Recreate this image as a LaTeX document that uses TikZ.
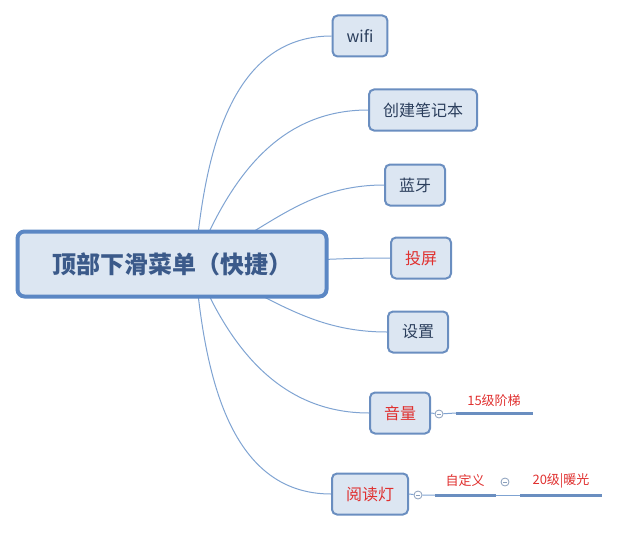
\documentclass[tikz,border=0pt]{standalone}
\usepackage{fontspec}
\setmainfont{Noto Sans CJK SC}
\usepackage{tikz}

\definecolor{boxfill}{HTML}{DCE6F2}
\definecolor{boxdraw}{HTML}{6A8EC0}
\definecolor{rootdraw}{HTML}{5B87C4}
\definecolor{branchblue}{HTML}{7FA3D2}
\definecolor{textdark}{HTML}{2B3E5C}
\definecolor{roottext}{HTML}{3B5A8A}
\definecolor{textred}{HTML}{E0302F}
\definecolor{foldgray}{HTML}{8A9FBC}

\begin{document}
\begin{tikzpicture}[x=1pt,y=-1pt]
\tikzstyle{topic}=[draw=boxdraw,fill=boxfill,line width=2,rounded corners=5,minimum height=41,inner xsep=14,font=\fontsize{16}{19}\selectfont,text=textdark]
\tikzstyle{roottopic}=[draw=rootdraw,fill=boxfill,line width=4,rounded corners=7,minimum width=309,minimum height=65,font=\fontsize{24}{28}\selectfont\bfseries,text=roottext]
\tikzstyle{branch}=[draw=branchblue,line width=1]
\tikzstyle{bar}=[draw=boxdraw,line width=3]
\tikzstyle{note}=[font=\fontsize{13}{15}\selectfont,text=textred,inner sep=1]
\tikzstyle{fold}=[circle,draw=foldgray,fill=white,line width=0.8,minimum size=8,inner sep=0,
  path picture={\draw[foldgray,line width=0.8] ([xshift=2]path picture bounding box.west) -- ([xshift=-2]path picture bounding box.east);}]
\useasboundingbox (0,0) rectangle (620,532);

\coordinate (hub) at (195,264);

% sub topics
\node[topic] (wifi) at (360,36) {wifi};
\node[topic] (note) at (423,110) {创建笔记本};
\node[topic] (bt) at (415,185) {蓝牙};
\node[topic,text=textred] (cast) at (421,258) {投屏};
\node[topic] (setup) at (418,332) {设置};
\node[topic,text=textred] (vol) at (400,413) {音量};
\node[topic,text=textred] (lamp) at (370,494) {阅读灯};

\draw[branch] (hub) to[out=85,in=180] (wifi.west);
\draw[branch] (hub) to[out=68,in=180] (note.west);
\draw[branch] (hub) to[out=25,in=180] (bt.west);
\draw[branch] (hub) to[out=0,in=180] (cast.west);
\draw[branch] (hub) to[out=-22,in=180] (setup.west);
\draw[branch] (hub) to[out=-68,in=180] (vol.west);
\draw[branch] (hub) to[out=-85,in=180] (lamp.west);

\node[roottopic] (root) at (172,264) {顶部下滑菜单（快捷）};

% volume details
\node[fold] (volfold) at (439,414) {};
\coordinate (vola) at (456,413);
\coordinate (volb) at (533,413);
\node[note] (steps) at (494,401) {15级阶梯};
\draw[branch] (vol.east) -- (volfold) -- (vola);
\draw[bar] (vola) -- (volb);

% lamp details
\node[fold] (lampfold) at (418,495) {};
\coordinate (lampa) at (435,495);
\coordinate (lampb) at (496,495);
\coordinate (lampc) at (520,495);
\coordinate (lampd) at (602,495);
\node[note] (custom) at (465,481) {自定义};
\node[fold] (customfold) at (505,482) {};
\node[note] (warm) at (561,481) {20级|暖光};
\draw[branch] (lamp.east) -- (lampfold) -- (lampa);
\draw[bar] (lampa) -- (lampb);
\draw[branch] (lampb) -- (lampc);
\draw[bar] (lampc) -- (lampd);
\end{tikzpicture}
\end{document}
